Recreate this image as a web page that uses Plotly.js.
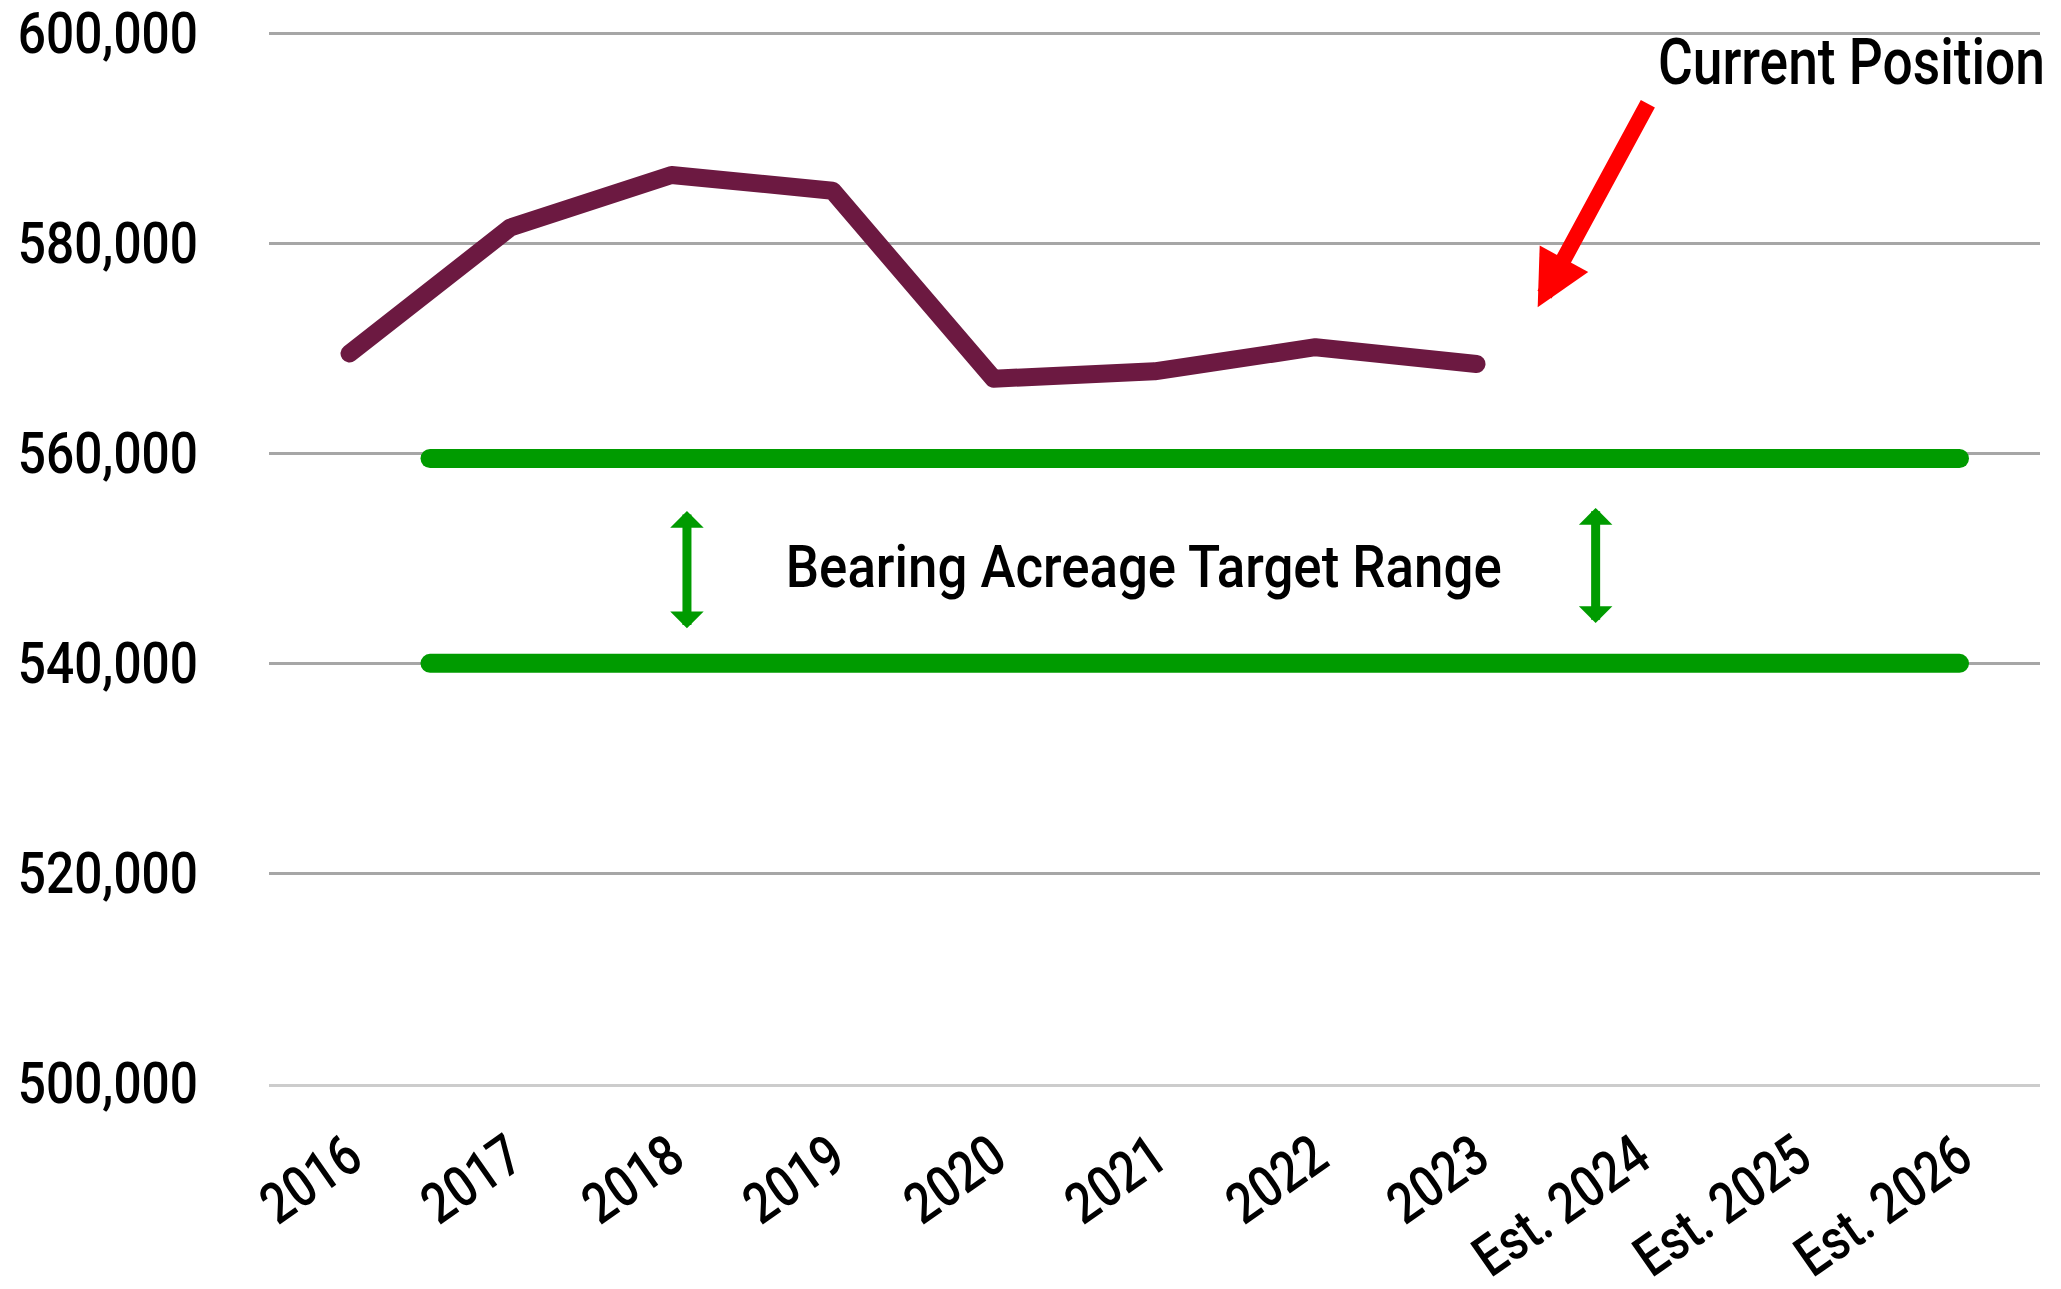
<!DOCTYPE html>
<html>
<head>
<meta charset="utf-8">
<script src="https://cdn.plot.ly/plotly-3.0.1.min.js"></script>
<style>
  html, body { margin: 0; padding: 0; background: #fff; }
  #plot { width: 2061px; height: 1289px; }
  /* rounded ends like the original artwork */
  .js-line { stroke-linecap: round; stroke-linejoin: round; }
</style>
</head>
<body>
<div id="plot"></div>
<script>
// x categories (observed years + estimates)
var years = ['2016', '2017', '2018', '2019', '2020', '2021', '2022', '2023',
             'Est. 2024', 'Est. 2025', 'Est. 2026'];

// bearing acreage, only observed years have values
var acreage = [569500, 581500, 586500, 585000, 567100, 567800, 570100, 568500];

// target range bounds and the span it covers (in category index)
var targetHigh = 559500;
var targetLow = 540000;
var targetSpan = [0.5, 10];

var FONT = 'Roboto, Liberation Sans, sans-serif';
var MAROON = '#6c1941';
var GREEN = '#009b00';

var idx = years.map(function (_, i) { return i; });

var acreageTrace = {
  x: acreage.map(function (_, i) { return i; }),
  y: acreage,
  mode: 'lines',
  line: { color: MAROON, width: 18 },
  hoverinfo: 'skip'
};

var highTrace = {
  x: targetSpan,
  y: [targetHigh, targetHigh],
  mode: 'lines',
  line: { color: GREEN, width: 19 },
  hoverinfo: 'skip'
};

var lowTrace = {
  x: targetSpan,
  y: [targetLow, targetLow],
  mode: 'lines',
  line: { color: GREEN, width: 19 },
  hoverinfo: 'skip'
};

var data = [highTrace, lowTrace, acreageTrace];

// double headed arrow inside the target band
function bandArrow(x, yTop, yBottom) {
  return {
    x: x, y: yTop, xref: 'x', yref: 'y',
    ax: x, ay: yBottom, axref: 'x', ayref: 'y',
    text: '', showarrow: true,
    arrowside: 'end+start',
    arrowhead: 1, startarrowhead: 1,
    arrowsize: 0.62, startarrowsize: 0.62,
    arrowwidth: 9, arrowcolor: GREEN,
    standoff: 0, startstandoff: 0
  };
}

var layout = {
  width: 2061,
  height: 1289,
  margin: { l: 269, r: 21, t: 30, b: 205 },
  paper_bgcolor: '#ffffff',
  plot_bgcolor: '#ffffff',
  showlegend: false,
  font: { family: FONT, color: '#000000' },
  xaxis: {
    type: 'linear',
    range: [-0.5, 10.5],
    tickvals: idx,
    ticktext: years,
    tickangle: -35,
    tickfont: { family: FONT, size: 57, weight: 500, color: '#000000' },
    ticklabelstandoff: 14,
    showgrid: false,
    zeroline: false,
    showline: true,
    linecolor: '#cccccc',
    linewidth: 3,
    ticks: '',
    fixedrange: true
  },
  yaxis: {
    range: [499950, 600300],
    tickvals: [500000, 520000, 540000, 560000, 580000, 600000],
    tickformat: ',d',
    tickfont: { family: FONT, size: 57, weight: 500, color: '#000000' },
    ticklabelstandoff: 70,
    showgrid: true,
    gridcolor: '#a6a6a6',
    gridwidth: 3,
    zeroline: false,
    showline: false,
    ticks: '',
    fixedrange: true
  },
  annotations: [
    {
      x: 4.93, y: 549200, xref: 'x', yref: 'y',
      text: 'Bearing Acreage Target Range',
      showarrow: false,
      font: { family: FONT, size: 60, weight: 500, color: '#000000' },
      xanchor: 'center', yanchor: 'middle'
    },
    bandArrow(2.096, 554500, 543200),
    bandArrow(7.74, 554800, 543700),
    {
      x: 1.004, y: 597300, xref: 'paper', yref: 'y',
      text: 'Current Position',
      showarrow: false,
      font: { family: FONT, size: 65, weight: 500, color: '#000000' },
      xanchor: 'right', align: 'right', yanchor: 'middle'
    },
    {
      // red pointer toward the latest value
      x: 7.38, y: 573900, xref: 'x', yref: 'y',
      ax: 111, ay: -205,
      text: '', showarrow: true,
      arrowhead: 2, arrowsize: 0.69, arrowwidth: 16,
      arrowcolor: '#ff0000', standoff: 0
    }
  ]
};

// the original uses a condensed face; squeeze the glyphs horizontally
function squeeze(t, factor) {
  var w = t.getComputedTextLength();
  if (w > 0) {
    t.setAttribute('textLength', (w * factor).toFixed(1));
    t.setAttribute('lengthAdjust', 'spacingAndGlyphs');
  }
}

function condense(gd) {
  gd.querySelectorAll('g.ytick text').forEach(function (t) { squeeze(t, 0.87); });
  gd.querySelectorAll('g.xtick text').forEach(function (t) { squeeze(t, 0.83); });
  gd.querySelectorAll('text.annotation-text').forEach(function (t) {
    squeeze(t, t.textContent.indexOf('Bearing') === 0 ? 0.88 : 0.82);
  });
}

Plotly.newPlot('plot', data, layout, { displayModeBar: false, staticPlot: true })
  .then(condense);
</script>
</body>
</html>
